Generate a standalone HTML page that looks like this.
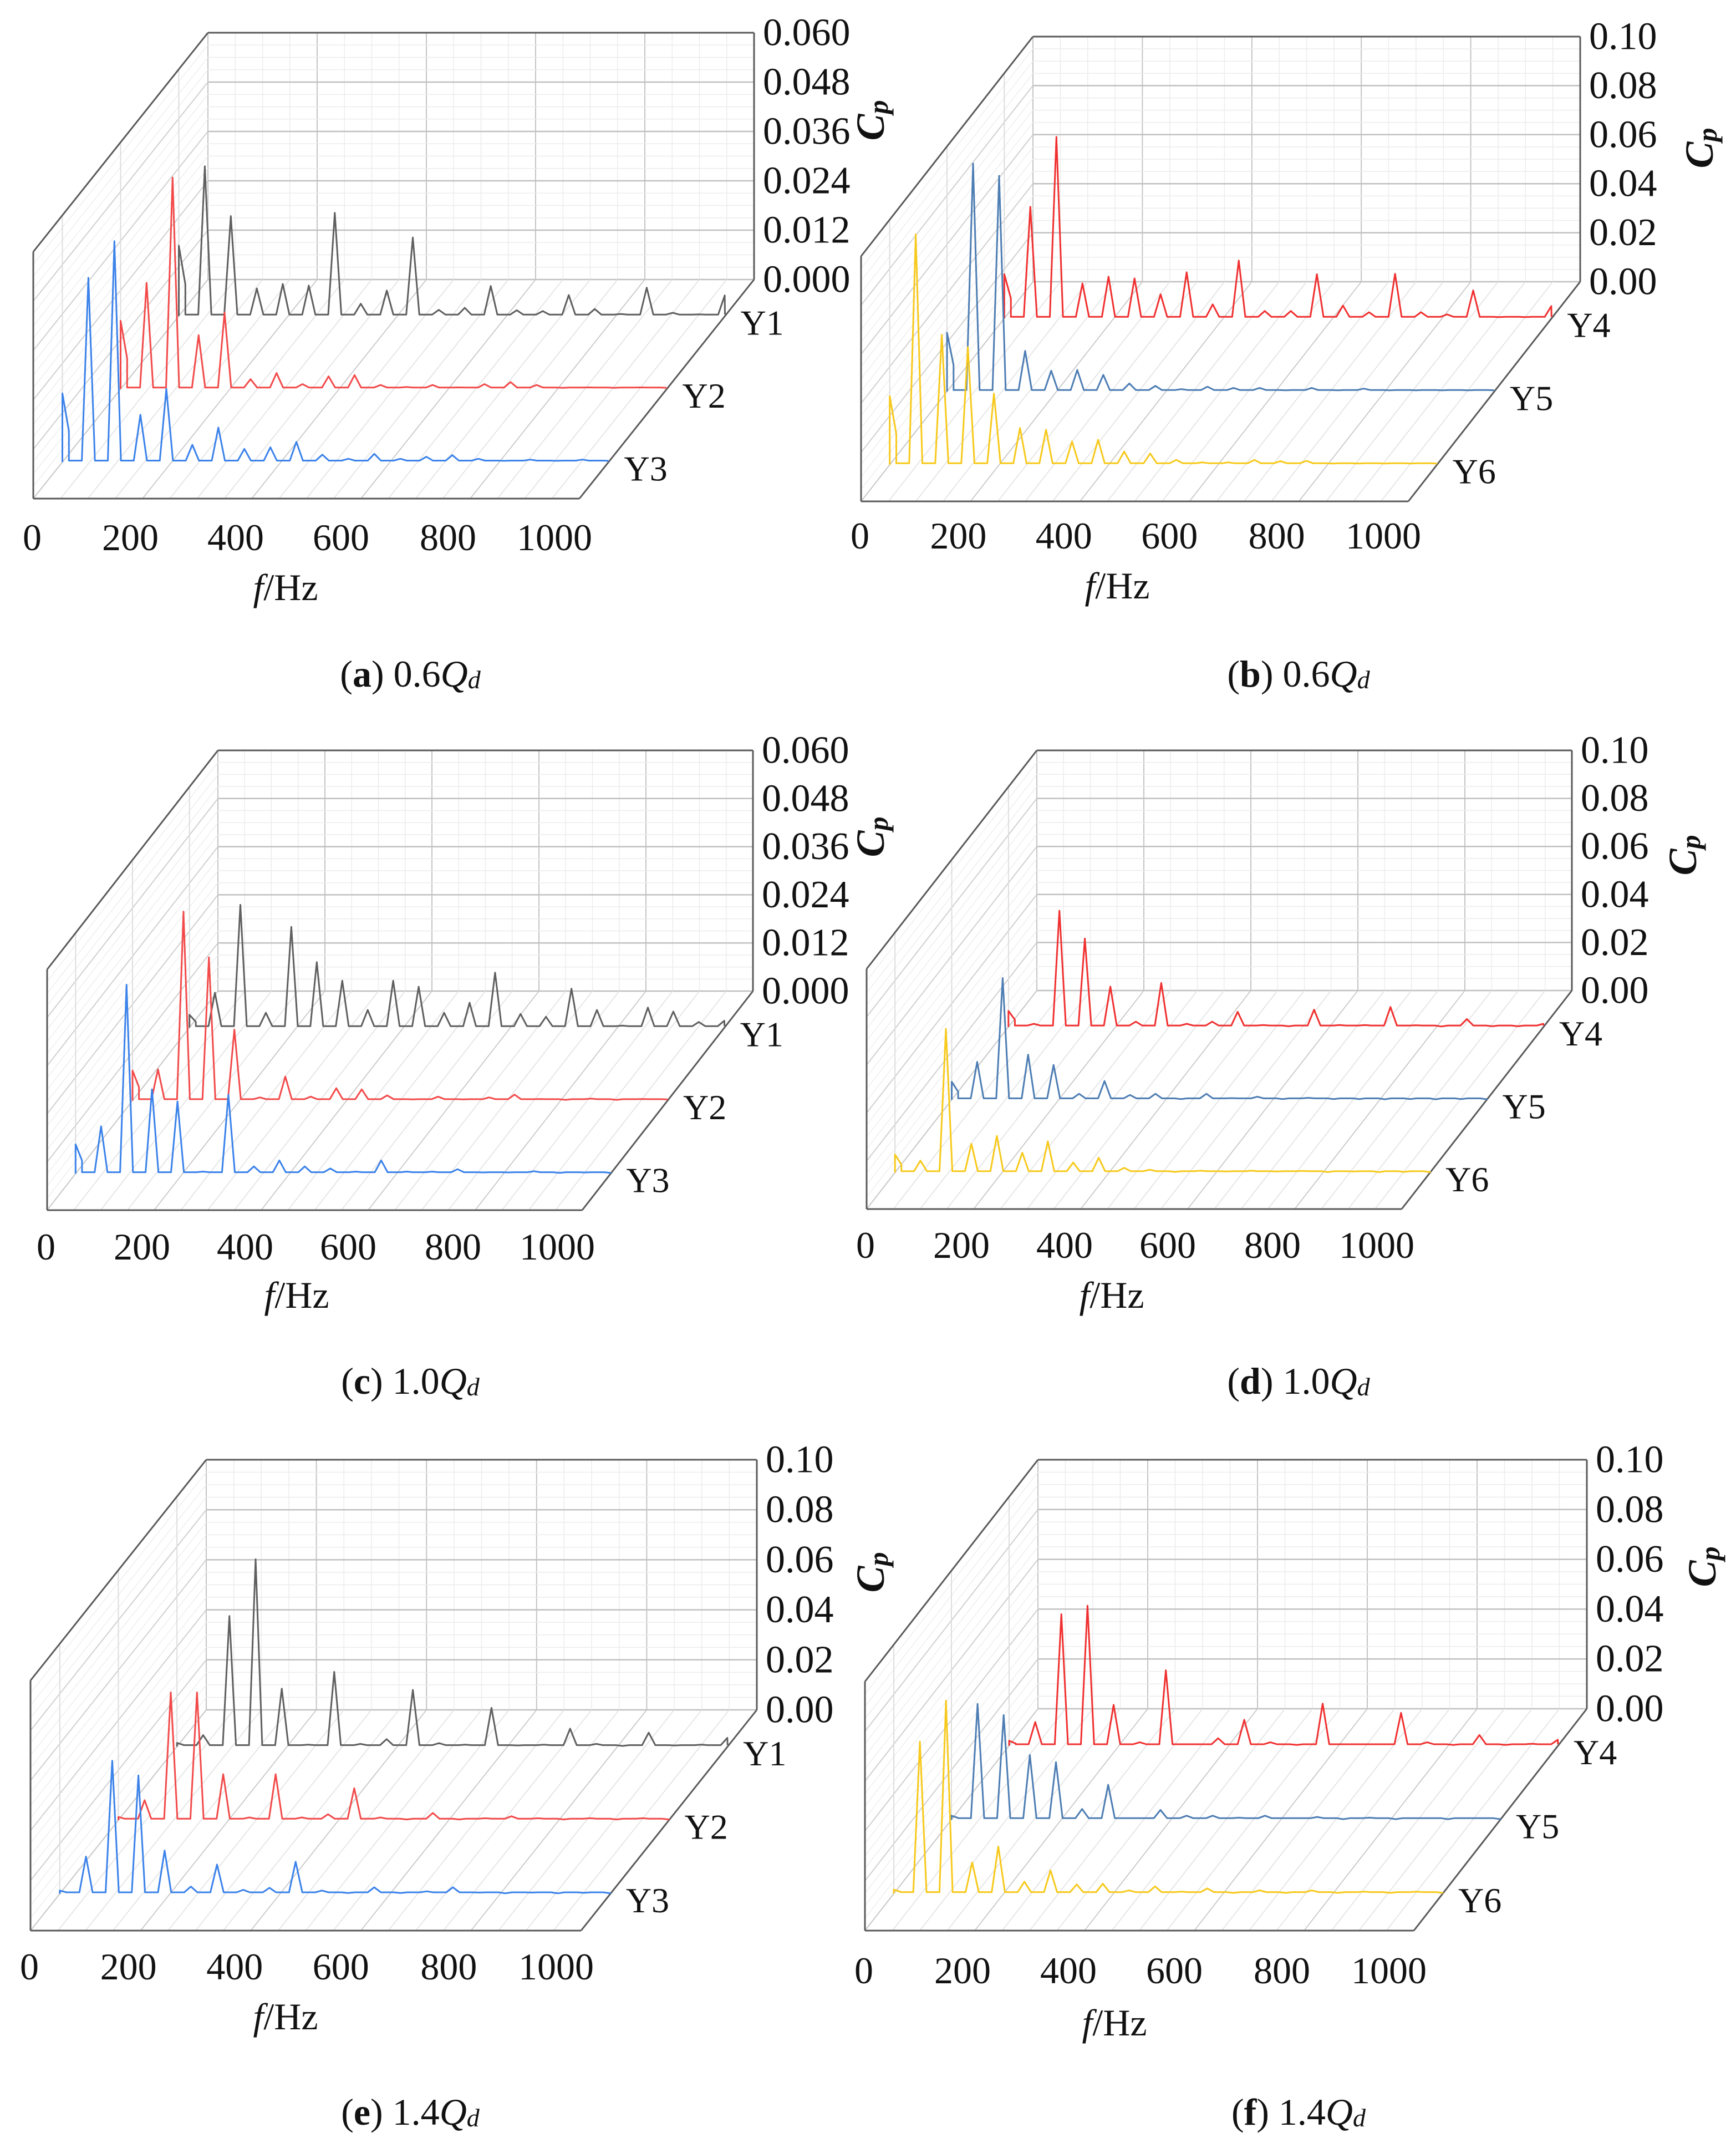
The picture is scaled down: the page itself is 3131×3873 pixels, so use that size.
<!DOCTYPE html>
<html><head><meta charset="utf-8"><style>
html,body{margin:0;padding:0;background:#fff;}
svg{display:block;font-family:"Liberation Serif",serif;}
</style></head><body>
<svg id="fig" width="3131" height="3873" viewBox="0 0 3131 3873" xmlns="http://www.w3.org/2000/svg"></svg>
<script>
// ---- data ----
const freqStep = 47.6;
const xTicks = [0,200,400,600,800,1000];
const yTicks06 = ["0.000","0.012","0.024","0.036","0.048","0.060"];
const yTicks10 = ["0.00","0.02","0.04","0.06","0.08","0.10"];
const a_Y1 = [0.0171,0.0364,0.0243,0.0067,0.0078,0.0074,0.0251,0.003,0.0062,0.0191,0.0015,0.002,0.0073,0.0014,0.0012,0.0051,0.0017,0.0005,0.0069,0.0008,0.0004,0.005];
const a_Y2 = [0.0166,0.0258,0.0514,0.0131,0.0186,0.0024,0.0039,0.0012,0.0031,0.0034,0.001,0.0005,0.001,0.0004,0.0012,0.0017,0.001,0.0003,0.0004,0.0003,0.0004,0.0003];
const a_Y3 = [0.0167,0.0448,0.0537,0.0115,0.0178,0.0042,0.0084,0.0032,0.0036,0.0049,0.0018,0.0008,0.002,0.0008,0.0013,0.0017,0.0008,0.0003,0.0006,0.0003,0.0006,0.0003];
const b_Y4 = [0.018,0.0455,0.074,0.0142,0.017,0.0163,0.0098,0.0188,0.0057,0.0236,0.003,0.003,0.018,0.0052,0.0025,0.0182,0.0025,0.0016,0.0114,0.0005,0.0005,0.005];
const b_Y5 = [0.024,0.093,0.088,0.0166,0.0085,0.0088,0.0068,0.0033,0.0023,0.001,0.002,0.0015,0.0015,0.0005,0.0015,0.0005,0.0012,0.0005,0.0005,0.0005,0.0005,0.0005];
const b_Y6 = [0.028,0.094,0.053,0.048,0.029,0.015,0.0143,0.0095,0.0102,0.0054,0.0046,0.002,0.001,0.001,0.002,0.0015,0.0016,0.0005,0.0005,0.0005,0.0005,0.0005];
const c_Y1 = [0.0032,0.0087,0.0306,0.0037,0.0251,0.0163,0.0117,0.0044,0.0117,0.0102,0.0037,0.0062,0.0137,0.0034,0.0027,0.0097,0.0044,0.0005,0.005,0.004,0.0014,0.0017];
const c_Y2 = [0.0075,0.0078,0.0471,0.0357,0.0177,0.0008,0.006,0.001,0.0031,0.0028,0.0013,0.0003,0.001,0.0003,0.0008,0.0015,0.0004,0.0002,0.0005,0.0002,0.0004,0.0003];
const c_Y3 = [0.0073,0.0118,0.0471,0.021,0.018,0.0005,0.0197,0.0018,0.0033,0.0018,0.0013,0.0005,0.0033,0.0005,0.0005,0.0011,0.0003,0.0003,0.0006,0.0002,0.0003,0.0002];
const d_Y4 = [0.0067,0.0013,0.0484,0.0368,0.0168,0.0022,0.0183,0.0013,0.0022,0.0063,0.0008,0.0003,0.0072,0.0008,0.0008,0.0083,0.0007,0.0002,0.0033,0.0003,0.0003,0.0013];
const d_Y5 = [0.0075,0.0158,0.0507,0.0188,0.0145,0.0025,0.0078,0.002,0.0025,0.0003,0.0025,0.0007,0.0013,0.0003,0.0008,0.0003,0.0003,0.0002,0.0003,0.0002,0.0003,0.0002];
const d_Y6 = [0.0075,0.005,0.0599,0.012,0.0153,0.0083,0.013,0.0042,0.0062,0.002,0.0012,0.0003,0.0008,0.0005,0.0008,0.0005,0.0007,0.0002,0.0005,0.0002,0.0003,0.0002];
const e_Y1 = [0.0015,0.0046,0.0522,0.0749,0.0232,0.0008,0.0299,0.0011,0.003,0.0227,0.0014,0.0008,0.0155,0.0005,0.0008,0.0072,0.0011,0.0003,0.0056,0.0005,0.0008,0.0035];
const e_Y2 = [0.0013,0.008,0.0511,0.0511,0.0184,0.0011,0.0184,0.0011,0.0024,0.0128,0.0011,0.0003,0.0029,0.0003,0.0008,0.0016,0.0008,0.0003,0.0008,0.0003,0.0008,0.0003];
const e_Y3 = [0.0013,0.0149,0.0532,0.0473,0.0173,0.0029,0.0117,0.0016,0.0024,0.0128,0.0013,0.0003,0.0026,0.0003,0.001,0.0026,0.0005,0.0002,0.0005,0.0002,0.0004,0.0002];
const f_Y4 = [0.002,0.0095,0.0528,0.0562,0.0164,0.0014,0.0303,0.0006,0.003,0.0104,0.0014,0.0003,0.0169,0.0006,0.0006,0.0132,0.0014,0.0003,0.0043,0.0003,0.0008,0.0024];
const f_Y5 = [0.0016,0.0465,0.042,0.026,0.0231,0.0043,0.014,0.0006,0.0039,0.0016,0.0016,0.0008,0.0016,0.0006,0.0011,0.0002,0.0008,0.0002,0.0006,0.0002,0.0006,0.0002];
const f_Y6 = [0.0016,0.061,0.0775,0.0125,0.0189,0.0048,0.0093,0.0037,0.004,0.0013,0.0029,0.0008,0.0021,0.0003,0.0013,0.0003,0.0013,0.0003,0.0008,0.0003,0.0008,0.0003];

// ---- layout ----
const C_GRAY="#5f5f5f", C_RED="#f24a4a", C_BLUE="#3b82ea", C_RED2="#f03030", C_STEEL="#4d7db3", C_GOLD="#f7c91c";
const panels = [
 {id:'a',fl:[60,899],W:985,dp:[315,-395],h:445,ymax:0.06,ticks:yTicks06,series:[a_Y1,a_Y2,a_Y3],names:['Y1','Y2','Y3'],colors:[C_GRAY,C_RED,C_BLUE],xl:969,fh:[515,1059],cp:[1570,217],cap:[740,1215],q:'0.6'},
 {id:'b',fl:[1553,904],W:987,dp:[310,-396],h:442,ymax:0.10,ticks:yTicks10,series:[b_Y4,b_Y5,b_Y6],names:['Y4','Y5','Y6'],colors:[C_RED2,C_STEEL,C_GOLD],xl:966,fh:[2015,1056],cp:[3065,267],cap:[2342,1215],q:'0.6'},
 {id:'c',fl:[85,2182],W:965,dp:[308,-395],h:434,ymax:0.06,ticks:yTicks06,series:[c_Y1,c_Y2,c_Y3],names:['Y1','Y2','Y3'],colors:[C_GRAY,C_RED,C_BLUE],xl:2248,fh:[535,2335],cp:[1570,1509],cap:[740,2490],q:'1.0'},
 {id:'d',fl:[1563,2180],W:965,dp:[307,-394],h:433,ymax:0.10,ticks:yTicks10,series:[d_Y4,d_Y5,d_Y6],names:['Y4','Y5','Y6'],colors:[C_RED2,C_STEEL,C_GOLD],xl:2245,fh:[2005,2335],cp:[3035,1542],cap:[2342,2490],q:'1.0'},
 {id:'e',fl:[55,3481],W:993,dp:[317,-398],h:451,ymax:0.10,ticks:yTicks10,series:[e_Y1,e_Y2,e_Y3],names:['Y1','Y2','Y3'],colors:[C_GRAY,C_RED,C_BLUE],xl:3546,fh:[515,3636],cp:[1570,2835],cap:[740,3808],q:'1.4'},
 {id:'f',fl:[1560,3481],W:990,dp:[312,-400],h:449,ymax:0.10,ticks:yTicks10,series:[f_Y4,f_Y5,f_Y6],names:['Y4','Y5','Y6'],colors:[C_RED2,C_STEEL,C_GOLD],xl:3553,fh:[2010,3647],cp:[3070,2825],cap:[2342,3808],q:'1.4'}
];
const depthFrac=[5/6,1/2,1/6];
const xLabOff=[-2,-22,-29,-36,-40,-45];
const NS="http://www.w3.org/2000/svg";
const svg=document.getElementById('fig');
function mk(tag,attrs,parent,text){const e=document.createElementNS(NS,tag);for(const k in attrs)e.setAttribute(k,attrs[k]);if(text!==undefined)e.textContent=text;(parent||svg).appendChild(e);return e;}
function line(g,x1,y1,x2,y2,stroke,w){return mk('line',{x1,y1,x2,y2,stroke,'stroke-width':w},g);}

panels.forEach(P=>{
  const g=mk('g',{});
  
  
  const [fx,fy]=P.fl,[dx,dy]=P.dp,W=P.W,H=P.h;
  const X=(f,frac)=>fx+f/1000*W+dx*frac;
  const Y=(v,frac)=>fy+dy*frac-v/P.ymax*H;
  const bx=fx+dx, by=fy+dy;
  for(let f=0;f<=1000;f+=50){const x=X(f,1);line(g,x,by-H,x,by,f%200===0?'#c4c4c4':'#ececec',f%200===0?2:1.5);}
  for(let i=0;i<=20;i++){const v=P.ymax*i/20;const y=Y(v,1);line(g,bx,y,bx+W,y,i%4===0?'#c0c0c0':'#ececec',i%4===0?2.5:1.5);}
  for(let i=0;i<=20;i++){const v=P.ymax*i/20;line(g,X(0,0),Y(v,0),X(0,1),Y(v,1),i%4===0?'#d0d0d0':'#eeeeee',i%4===0?2:1.5);}
  depthFrac.forEach(fr=>line(g,X(0,fr),Y(0,fr),X(0,fr),Y(P.ymax,fr),'#dddddd',2));
  for(let f=0;f<=1000;f+=50){line(g,X(f,0),Y(0,0),X(f,1),Y(0,1),f%200===0?'#c8c8c8':'#e4e4e4',1.8);}
  const o='#5a5a5a';
  line(g,X(0,0),Y(0,0),X(1000,0),Y(0,0),o,3);
  line(g,X(1000,0),Y(0,0),X(1000,1),Y(0,1),o,3);
  line(g,X(1000,1),Y(0,1),X(1000,1),Y(P.ymax,1),o,3);
  line(g,X(0,1),Y(P.ymax,1),X(1000,1),Y(P.ymax,1),o,3);
  line(g,X(0,0),Y(0,0),X(0,0),Y(P.ymax,0),o,3);
  line(g,X(0,0),Y(P.ymax,0),X(0,1),Y(P.ymax,1),o,3);
  P.ticks.forEach((t,i)=>{const e=mk('text',{x:X(1000,1)+16,y:Y(P.ymax*i/5,1),'font-size':70,'dominant-baseline':'central',fill:'#111'},g,t);
    
    });
  xTicks.forEach((t,i)=>{const e=mk('text',{x:X(t,0)+xLabOff[i],y:P.xl,'font-size':68,'text-anchor':'middle','dominant-baseline':'central',fill:'#111'},g,String(t));
    
    });
  const xt=mk('text',{x:P.fh[0],y:P.fh[1],'font-size':68,'text-anchor':'middle','dominant-baseline':'central',fill:'#111'},g);
  
  
  mk('tspan',{'font-style':'italic'},xt,'f');mk('tspan',{},xt,'/Hz');
  const cp=mk('text',{x:0,y:0,'font-size':72,'font-weight':'bold','font-style':'italic','text-anchor':'middle','dominant-baseline':'central',transform:`translate(${P.cp[0]},${P.cp[1]}) rotate(-90)`,fill:'#111'},g);
  
  
  mk('tspan',{},cp,'C');mk('tspan',{'font-size':50,dy:14},cp,'p');
  const floor=P.ymax*0.006;
  for(let s=0;s<3;s++){
    const amps=P.series[s],fr=depthFrac[s];
    const pts=[];
    pts.push([0,0]);
    amps.forEach((v,k)=>{const f=k*freqStep;
      pts.push([Math.min(f,1000),v]);
      if(k===0) pts.push([12,v*0.45]);
      if(k<amps.length-1){pts.push([f+12,floor]);pts.push([f+freqStep-12,floor]);}
    });
    pts.push([1000,floor]);
    const d=pts.map((p,i)=>(i?'L':'M')+X(Math.min(p[0],1000),fr).toFixed(1)+' '+Y(p[1],fr).toFixed(1)).join(' ');
    const pth=mk('path',{d,fill:'none',stroke:P.colors[s],'stroke-width':3,'stroke-linejoin':'round'},g);
    
    
    const lb=mk('text',{x:X(1000,fr)+28,y:Y(0,fr)+12,'font-size':64,'dominant-baseline':'central',fill:'#111'},g,P.names[s]);
    
    
  }
  const cap=mk('text',{x:P.cap[0],y:P.cap[1],'font-size':68,'text-anchor':'middle','dominant-baseline':'central',fill:'#111'},g);
  
  
  mk('tspan',{},cap,'(');mk('tspan',{'font-weight':'bold'},cap,P.id);mk('tspan',{},cap,') '+P.q);
  mk('tspan',{'font-style':'italic'},cap,'Q');mk('tspan',{'font-style':'italic','font-size':46,dy:10},cap,'d');
});
</script>
</body></html>
